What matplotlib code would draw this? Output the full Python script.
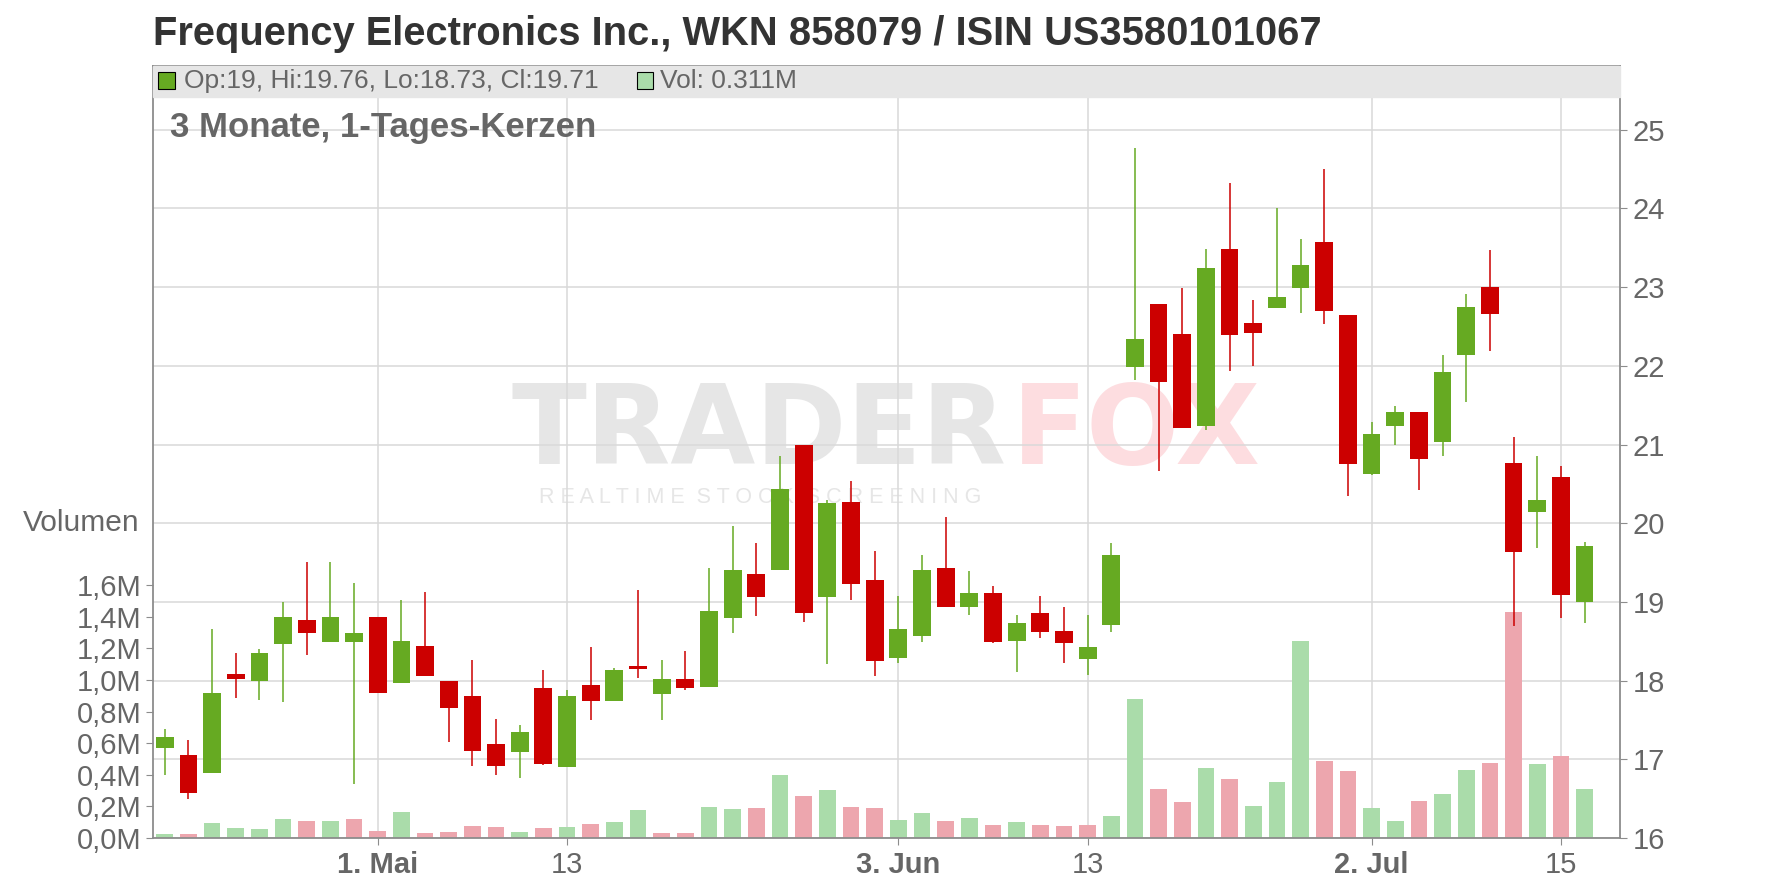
import matplotlib.pyplot as plt
from matplotlib.patches import Rectangle
import numpy as np

plt.rcParams['font.family'] = ['Liberation Sans', 'DejaVu Sans']

# daily candles, Apr 18 - Jul 16 (trading days only)
opens = [17.14, 17.05, 16.83, 18.08, 18.00, 18.47, 18.77, 18.49, 18.49, 18.81,
         17.97, 18.44, 17.99, 17.80, 17.20, 17.09, 17.90, 16.90, 17.95, 17.74,
         18.18, 17.83, 18.02, 17.92, 18.80, 19.35, 19.41, 21.00, 19.06, 20.27,
         19.28, 18.29, 18.57, 19.43, 18.94, 19.11, 18.50, 18.86, 18.63, 18.27,
         18.71, 21.98, 22.79, 22.40, 21.24, 23.49, 22.55, 22.73, 22.99, 23.57,
         22.65, 20.63, 21.24, 21.41, 21.03, 22.14, 23.00, 20.76, 20.14, 20.59,
         19.00]
highs = [17.39, 17.25, 18.66, 18.35, 18.40, 19.00, 19.51, 19.51, 19.24, 18.81,
         19.03, 19.13, 17.99, 18.26, 17.51, 17.43, 18.13, 17.88, 18.43, 18.16,
         19.15, 18.26, 18.37, 19.43, 19.97, 19.75, 20.85, 21.00, 20.30, 20.54,
         19.65, 19.07, 19.60, 20.08, 19.39, 19.20, 18.83, 19.07, 18.93, 18.83,
         19.75, 24.77, 22.79, 22.99, 23.49, 24.32, 22.83, 24.00, 23.61, 24.50,
         22.65, 21.29, 21.49, 21.41, 22.14, 22.91, 23.47, 21.09, 20.85, 20.73,
         19.76]
lows = [16.80, 16.49, 16.83, 17.78, 17.75, 17.73, 18.33, 18.49, 16.68, 17.84,
        17.97, 18.06, 17.22, 16.92, 16.80, 16.76, 16.93, 16.90, 17.50, 17.74,
        18.03, 17.50, 17.88, 17.92, 18.60, 18.82, 19.41, 18.75, 18.21, 19.03,
        18.06, 18.23, 18.49, 18.94, 18.83, 18.48, 18.11, 18.54, 18.23, 18.07,
        18.62, 21.82, 20.66, 21.21, 21.19, 21.94, 22.00, 22.73, 22.67, 22.53,
        20.35, 20.61, 20.99, 20.42, 20.85, 21.54, 22.19, 18.69, 19.68, 18.80,
        18.73]
closes = [17.28, 16.57, 17.84, 18.02, 18.35, 18.81, 18.61, 18.81, 18.60, 17.84,
          18.50, 18.06, 17.65, 17.11, 16.92, 17.35, 16.94, 17.80, 17.74, 18.13,
          18.15, 18.02, 17.91, 18.89, 19.40, 19.06, 20.44, 18.86, 20.26, 19.23,
          18.25, 18.65, 19.40, 18.94, 19.11, 18.49, 18.73, 18.62, 18.48, 18.43,
          19.60, 22.34, 21.80, 21.21, 23.24, 22.39, 22.42, 22.87, 23.28, 22.70,
          20.75, 21.13, 21.41, 20.81, 21.92, 22.75, 22.66, 19.64, 20.29, 19.09,
          19.71]
# volume in millions
volumes = [0.025, 0.025, 0.095, 0.064, 0.057, 0.120, 0.108, 0.108, 0.120, 0.044,
           0.165, 0.032, 0.038, 0.076, 0.070, 0.038, 0.064, 0.070, 0.089, 0.100,
           0.178, 0.032, 0.032, 0.197, 0.184, 0.190, 0.400, 0.267, 0.305, 0.197,
           0.190, 0.114, 0.159, 0.108, 0.127, 0.083, 0.100, 0.083, 0.076, 0.083,
           0.140, 0.880, 0.310, 0.227, 0.442, 0.373, 0.202, 0.354, 1.244, 0.486,
           0.423, 0.189, 0.107, 0.234, 0.278, 0.428, 0.473, 1.432, 0.466, 0.518,
           0.311]

tick_pos = [9, 17, 31, 39, 51, 59]
tick_labels = ["1. Mai", "13", "3. Jun", "13", "2. Jul", "15"]
month_labels = ["1. Mai", "3. Jun", "2. Jul"]
price_ticks = list(range(16, 26))
vol_ticks = [0.0, 0.2, 0.4, 0.6, 0.8, 1.0, 1.2, 1.4, 1.6]

GREEN = "#66aa22"
RED = "#cc0000"
VGREEN = "#aadcaa"
VRED = "#eda6ae"
TXT = "#666666"
GRID = "#d9d9d9"
FRAME = "#8c8c8c"

o = np.array(opens)
h = np.array(highs)
l = np.array(lows)
c = np.array(closes)
v = np.array(volumes)
x = np.arange(len(o))

up = c >= o
cand_col = np.where(up, GREEN, RED)
# volume colour follows close vs previous close
vol_up = np.concatenate([[True], c[1:] >= c[:-1]])
vol_col = np.where(vol_up, VGREEN, VRED)

fig = plt.figure(figsize=(17.76, 8.88), dpi=100)
ax = fig.add_axes([0.0861, 0.0563, 0.8261, 0.8694])
ax.set_xlim(-0.5, 61.5)
ax.set_ylim(16, 25.81)
ax.set_yticks(price_ticks)
ax.set_xticks(tick_pos)
ax.set_xticklabels(tick_labels)
for lab in ax.get_xticklabels():
    if lab.get_text() in month_labels:
        lab.set_fontweight("bold")
ax.grid(True, color=GRID, lw=1.1)
for s in ax.spines.values():
    s.set_visible(False)

# watermark
ax.text(0.2447, 0.4845, "TRADER", transform=ax.transAxes, fontsize=79,
        fontweight="bold", family="DejaVu Sans", color="#e6e6e6", zorder=0.5)
ax.text(0.5855, 0.4845, "FOX", transform=ax.transAxes, fontsize=79,
        fontweight="bold", family="DejaVu Sans", color="#fddde0", zorder=0.5)
ax.text(0.263, 0.434, "R E A L T I M E  S T O C K  S C R E E N I N G",
        transform=ax.transAxes, fontsize=15.5, color="#e6e6e6", zorder=0.5)

# volume
axv = ax.twinx()
axv.set_ylim(0, 4.886)
axv.yaxis.tick_left()
axv.set_yticks(vol_ticks)
axv.set_yticklabels([f"{t:.1f}M".replace(".", ",") for t in vol_ticks])
axv.tick_params(axis="y", labelsize=21, labelcolor=TXT, color=FRAME, length=5, pad=3)
axv.bar(x, v, width=0.7, color=vol_col, zorder=2)
for s in axv.spines.values():
    s.set_visible(False)

# candles
axc = ax.twinx()
axc.set_ylim(16, 25.81)
axc.set_yticks([])
axc.vlines(x, l, h, colors=cand_col, lw=1.1, zorder=3)
axc.bar(x, np.abs(c - o), bottom=np.minimum(o, c), width=0.75, color=cand_col, zorder=4)
for s in axc.spines.values():
    s.set_color(FRAME)
    s.set_linewidth(1.3)

# twinx moves the price ticks to the left, put them back on the right
ax.yaxis.tick_right()
ax.yaxis.set_label_position("right")
ax.tick_params(axis="y", labelsize=21, labelcolor=TXT, color=FRAME, length=5, pad=4)
ax.tick_params(axis="x", labelsize=21, labelcolor=TXT, color=FRAME, length=5, pad=4)

# legend band on top
axc.add_patch(Rectangle((0, 0.9598), 1, 0.0402, transform=axc.transAxes,
                        color="#e6e6e6", zorder=10, clip_on=False))
fig.add_artist(Rectangle((158 / 1776, 1 - 89 / 888), 17 / 1776, 17 / 888,
                         transform=fig.transFigure, facecolor=GREEN,
                         edgecolor="black", lw=0.8, zorder=11))
fig.add_artist(Rectangle((637 / 1776, 1 - 89 / 888), 16 / 1776, 17 / 888,
                         transform=fig.transFigure, facecolor=VGREEN,
                         edgecolor="black", lw=0.8, zorder=11))
fig.text(184 / 1776, 1 - 81 / 888,
         f"Op:{o[-1]:g}, Hi:{h[-1]:g}, Lo:{l[-1]:g}, Cl:{c[-1]:g}",
         fontsize=19, color=TXT, va="center", zorder=12)
fig.text(660 / 1776, 1 - 81 / 888, f"Vol: {v[-1]:.3f}M",
         fontsize=19, color=TXT, va="center", zorder=12)

fig.text(153 / 1776, 1 - 34 / 888,
         "Frequency Electronics Inc., WKN 858079 / ISIN US3580101067",
         fontsize=28.7, fontweight="bold", color="#333333", va="center")
fig.text(170 / 1776, 1 - 128 / 888, "3 Monate, 1-Tages-Kerzen",
         fontsize=25, fontweight="bold", color=TXT, va="center")
fig.text(139 / 1776, 1 - 523 / 888, "Volumen", fontsize=21.5, color=TXT,
         ha="right", va="center")

fig.savefig("out.png", dpi=100)
